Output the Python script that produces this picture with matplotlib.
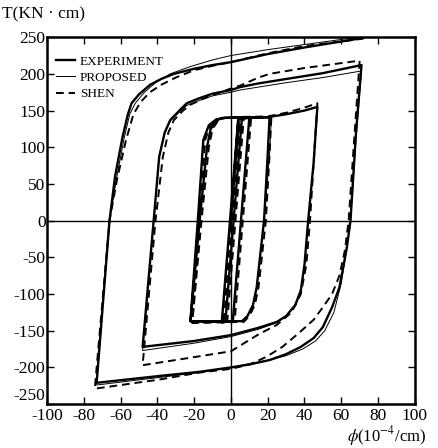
import matplotlib
matplotlib.use("Agg")
import matplotlib.pyplot as plt

plt.rcParams['font.family'] = ['Liberation Serif', 'DejaVu Serif']
plt.rcParams['mathtext.fontset'] = 'stix'

# ---- data (curvature phi in 1e-4/cm, torque T in kN*cm) ----
EXP_PHI = [0, 4, 6, -3, -5, 4, 10, 1, -22, -17, -13, -11, -8, -5, 21, 20, 18, 14, 12, 9, 6,
           -22, -18, -15, -12, -8, -3, 20, 30, 40, 47, 45, 42, 40, 38, 35, 30, 25, 15, 0, -20, -48,
           -42, -39, -36, -33, -28, -24, -17, -10, 0, 5, 15, 30, 50, 71,
           68, 65, 63, 59, 55, 50, 45, 38, 30, 21, 10, 0, -17, -40, -73,
           -66, -63, -59, -56, -54, -50, -44, -38, -31, -20, -10, 0, 20, 40, 72]
EXP_T = [0, 138, 140, -138, -139, 139, 140, -138, -137, 0, 100, 125, 136, 140, 141, 90, 0, -91, -115, -130, -137,
         -137, 0, 110, 130, 138, 140, 141, 145, 150, 155, 80, 0, -60, -95, -115, -130, -138, -146, -156, -164, -172,
         0, 87, 120, 137, 150, 160, 167, 173, 178, 182, 187, 193, 201, 212,
         120, 0, -37, -91, -118, -145, -160, -172, -182, -190, -196, -200, -206, -212, -221,
         0, 60, 113, 145, 160, 172, 185, 193, 200, 207, 212, 216, 227, 236, 249]

PRO_PHI = [0, 4, 6, -3, -5, 5, 10, 1, -22, -17, -13, -11, -8, -5, 22, 21, 18, 14, 12, 9, 6,
           -22, -18, -15, -12, -8, -3, 20, 30, 40, 47, 45, 42, 40, 38, 35, 30, 25, 15, 0, -20, -48,
           -42, -39, -36, -33, -28, -24, -17, -10, 0, 5, 15, 30, 50, 71,
           68, 65, 63, 60, 56, 51, 46, 39, 30, 21, 10, 0, -17, -40, -73,
           -66, -62, -58, -55, -52, -47, -41, -33, -22, -10, 0, 20, 40, 72]
PRO_T = [0, 138, 140, -138, -139, 139, 140, -138, -137, 0, 100, 125, 136, 140, 141, 90, 0, -91, -115, -130, -137,
         -137, 0, 110, 130, 138, 140, 141, 145, 150, 155, 80, 0, -60, -95, -115, -130, -139, -148, -158, -167, -177,
         0, 87, 120, 136, 148, 157, 164, 170, 175, 178, 182, 188, 195, 204,
         110, 0, -38, -85, -125, -150, -164, -175, -184, -190, -195, -200, -207, -214, -224,
         0, 60, 113, 145, 160, 175, 188, 200, 210, 219, 225, 233, 240, 251]

SHEN_PHI = [0, 5, 7, -2, -4, 5, 11, 2, -21, -16, -12, -10, -7, -4, 22, 21, 19, 15, 13, 10, 7,
            -21, -17, -14, -11, -7, -2, 20, 30, 40, 47, 45, 43, 41, 38, 33, 25, 15, 0, -20, -48,
            -41, -37, -34, -31, -26, -22, -16, -10, 0, 5, 15, 21, 40, 70,
            67, 64, 62, 59, 55, 50, 45, 37, 28, 19, 10, 0, -17, -40, -74,
            -66, -62, -57, -53, -49, -44, -38, -30, -20, -10, 0, 20, 40, 72]
SHEN_T = [0, 138, 140, -138, -139, 139, 140, -138, -139, 0, 100, 125, 136, 140, 141, 90, 0, -91, -115, -130, -138,
          -139, 0, 110, 130, 138, 141, 142, 147, 154, 160, 80, 0, -60, -100, -125, -142, -155, -178, -186, -197,
          0, 87, 120, 137, 150, 158, 165, 171, 180, 184, 195, 200, 208, 218,
          110, 0, -40, -75, -100, -118, -135, -153, -172, -186, -196, -202, -207, -217, -229,
          0, 55, 110, 145, 162, 175, 185, 195, 205, 211, 216, 228, 238, 248]

X_TICKS = [-100, -80, -60, -40, -20, 0, 20, 40, 60, 80, 100]
Y_TICKS = [-250, -200, -150, -100, -50, 0, 50, 100, 150, 200, 250]

fig = plt.figure(figsize=(4.39, 4.48), dpi=100)
ax = fig.add_axes([0.107, 0.098, 0.838, 0.819])

ax.axhline(0, color='black', lw=1.0, zorder=1)
ax.axvline(0, color='black', lw=1.0, zorder=1)

ax.plot(EXP_PHI, EXP_T, color='black', lw=1.7, label='EXPERIMENT', zorder=3)
ax.plot(PRO_PHI, PRO_T, color='black', lw=0.7, label='PROPOSED', zorder=4)
ax.plot(SHEN_PHI, SHEN_T, color='black', lw=1.4, ls=(0, (4, 2.5)), label='SHEN', zorder=2)

ax.set_xlim(-100, 100)
ax.set_ylim(-250, 250)
ax.set_xticks(X_TICKS)
ax.set_yticks(Y_TICKS)
ax.set_xticklabels([str(v) for v in X_TICKS], fontsize=12.5)
ylabels = ax.set_yticklabels([str(v) for v in Y_TICKS], fontsize=12.5)
ylabels[0].set_va('bottom')
ax.tick_params(direction='in', top=True, right=True, length=5, width=1.0)
ax.tick_params(axis='x', pad=3)
ax.tick_params(axis='y', pad=1)
for s in ax.spines.values():
    s.set_linewidth(1.8)

leg = ax.legend(loc='upper left', frameon=False, fontsize=9.5, handlelength=1.45,
                handletextpad=0.35, labelspacing=0.3, borderaxespad=0.3,
                bbox_to_anchor=(0.0, 0.975))

fig.text(0.005, 0.968, 'T(KN \u00b7 cm)', fontsize=12.5, ha='left', va='center')
fig.text(0.97, 0.0, r'$\phi$(10$^{-4}$/cm)', fontsize=12, ha='right', va='bottom')

fig.savefig('out.png', dpi=100)
